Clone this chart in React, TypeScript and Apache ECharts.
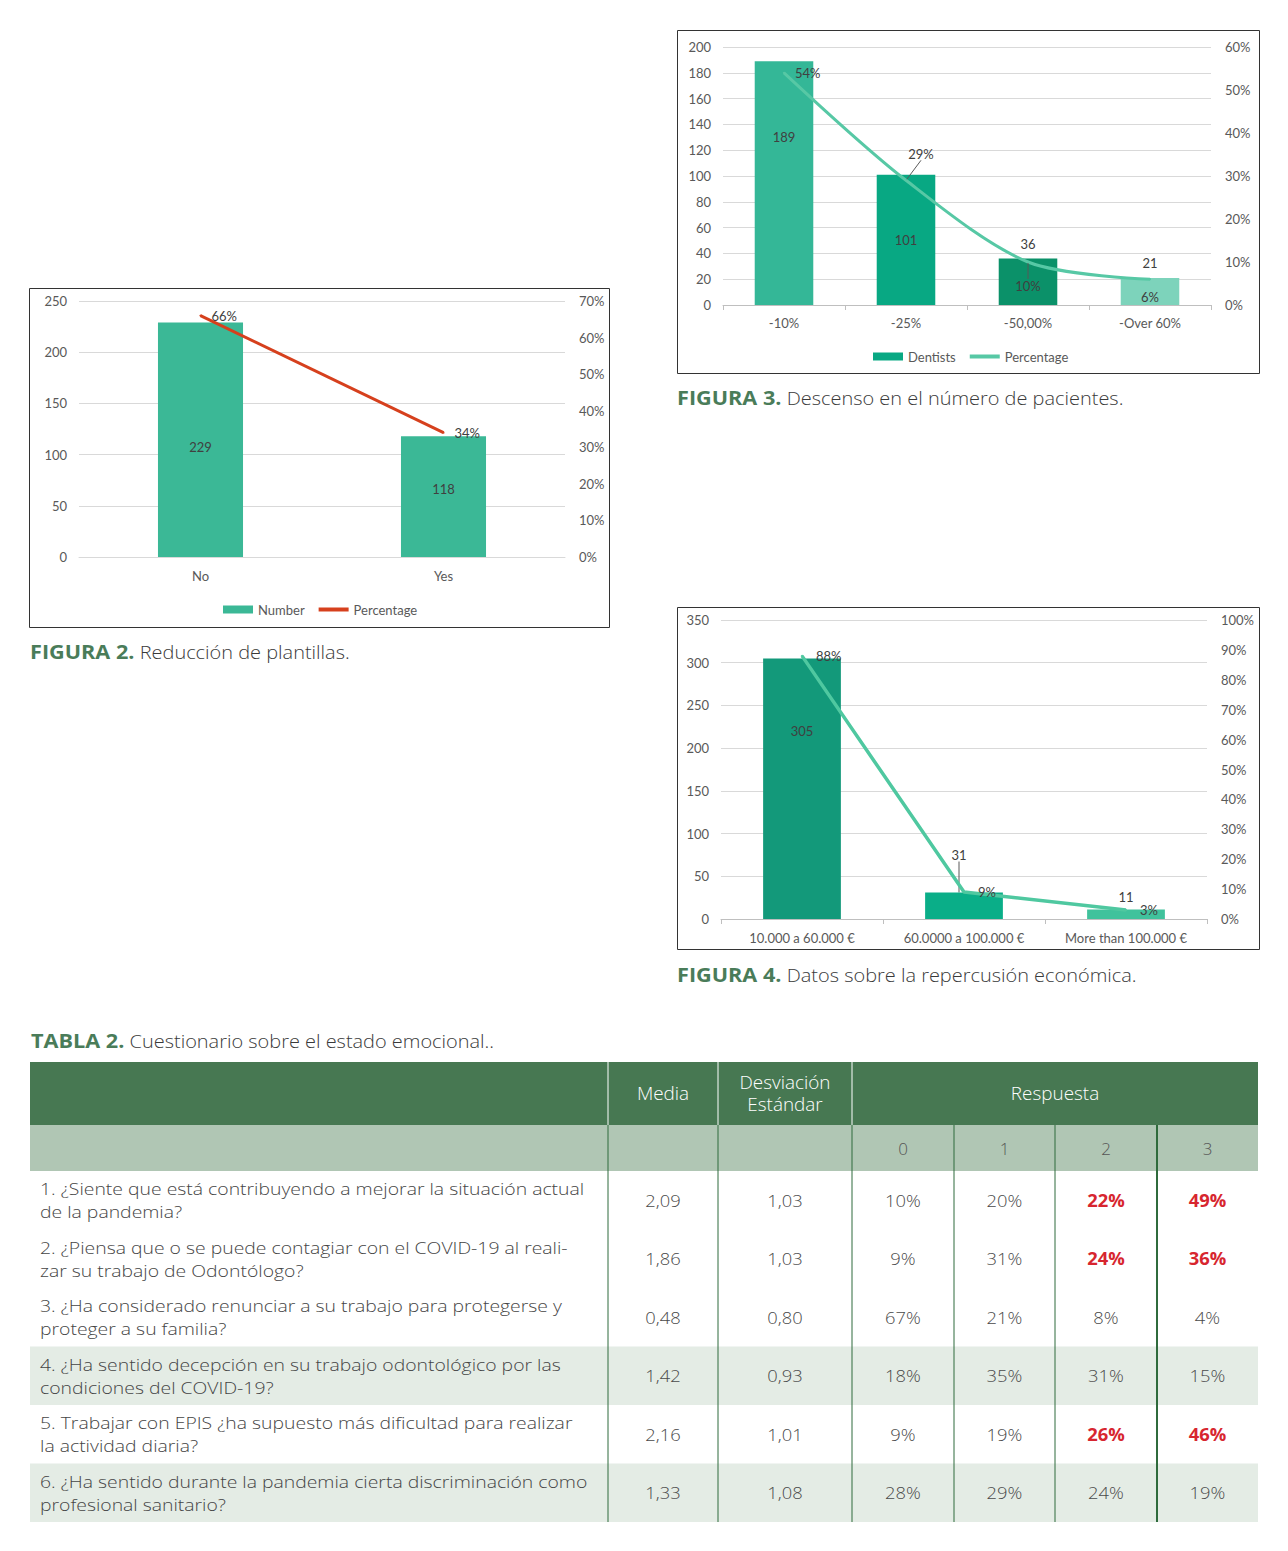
import React, { useEffect, useRef } from 'react';
import * as echarts from 'echarts';

// ---------- DATA ----------
const fig2Categories = ['No', 'Yes'];
const fig2Number = [229, 118];
const fig2Percentage = [66, 34];

const fig3Categories = ['-10%', '-25%', '-50,00%', '-Over 60%'];
const fig3Dentists = [189, 101, 36, 21];
const fig3Percentage = [54, 29, 10, 6];

const fig4Categories = ['10.000 a 60.000 €', '60.0000 a 100.000 €', 'More than 100.000 €'];
const fig4Dentists = [305, 31, 11];
const fig4Percentage = [88, 9, 3];

const captionFig2 = ['FIGURA 2.', ' Reducción de plantillas.'];
const captionFig3 = ['FIGURA 3.', ' Descenso en el número de pacientes.'];
const captionFig4 = ['FIGURA 4.', ' Datos sobre la repercusión económica.'];
const captionTable = ['TABLA 2.', ' Cuestionario sobre el estado emocional..'];

const tableHeaders = ['Media', 'Desviación\nEstándar', 'Respuesta'];
const tableAnswerLevels = ['0', '1', '2', '3'];
const tableQuestions = [
  '1. ¿Siente que está contribuyendo a mejorar la situación actual\nde la pandemia?',
  '2. ¿Piensa que o se puede contagiar con el COVID-19 al reali-\nzar su trabajo de Odontólogo?',
  '3. ¿Ha considerado renunciar a su trabajo para protegerse y\nproteger a su familia?',
  '4. ¿Ha sentido decepción en su trabajo odontológico por las\ncondiciones del COVID-19?',
  '5. Trabajar con EPIS ¿ha supuesto más dificultad para realizar\nla actividad diaria?',
  '6. ¿Ha sentido durante la pandemia cierta discriminación como\nprofesional sanitario?',
];
const tableMedia = ['2,09', '1,86', '0,48', '1,42', '2,16', '1,33'];
const tableDesv = ['1,03', '1,03', '0,80', '0,93', '1,01', '1,08'];
const tableResp0 = ['10%', '9%', '67%', '18%', '9%', '28%'];
const tableResp1 = ['20%', '31%', '21%', '35%', '19%', '29%'];
const tableResp2 = ['22%', '24%', '8%', '31%', '26%', '24%'];
const tableResp3 = ['49%', '36%', '4%', '15%', '46%', '19%'];
const tableHighlightRows = [true, true, false, false, true, false];
const tableShadedRows = [false, false, false, true, false, true];

// ---------- STYLE ----------
const FONT = 'Lato, "Liberation Sans", sans-serif';
const TFONT = '"Open Sans", "Noto Sans", sans-serif';
const WIDE = 1.14; // horizontal stretch to mimic the wider original typeface
const AXIS_TXT = '#595959';
const LBL_TXT = '#404040';
const GRID_CLR = '#D9D9D9';
const LINE_ICON = 'path://M0,0H30V4H0Z';

const fig2BarLabelPos: any[] = [['50%', '53%'], ['50%', '44%']];
const fig3BarColors = ['#34B797', '#08A883', '#0B9169', '#7DD3BB'];
const fig4BarColors = ['#13997A', '#0AAE88', '#40C29C'];
const fig3BarLabelPos: any[] = [['50%', '31%'], 'inside', 'top', 'top'];
const fig3PctLabelPos = ['right', 'top', 'bottom', 'bottom'];
const fig3PctLabelDist = [10, 5, 16, 10];
const fig4BarLabelPos: any[] = [['50%', '28%'], 'top', 'top'];

function valueAxis(gridIndex: number, max: number, interval: number, right: boolean, pct: boolean) {
  return {
    type: 'value',
    gridIndex,
    position: right ? 'right' : 'left',
    min: 0,
    max,
    interval,
    axisLine: { show: false },
    axisTick: { show: false },
    splitLine: right ? { show: false } : { show: true, lineStyle: { color: GRID_CLR, width: 1 } },
    axisLabel: {
      color: AXIS_TXT,
      fontSize: 13,
      fontFamily: FONT,
      margin: right ? 14 : 12,
      formatter: pct ? '{value}%' : '{value}',
    },
  };
}

function catAxis(gridIndex: number, data: string[], ticks: boolean, margin: number) {
  return {
    type: 'category',
    gridIndex,
    data,
    axisLine: { show: true, lineStyle: { color: ticks ? '#BFBFBF' : GRID_CLR, width: 1 } },
    axisTick: { show: ticks, length: 5, lineStyle: { color: '#BFBFBF' } },
    axisLabel: { color: AXIS_TXT, fontSize: 13, fontFamily: FONT, margin },
  };
}

const lblBase = { show: true, color: LBL_TXT, fontSize: 13, fontFamily: FONT };

function posLabel(pos: any) {
  return Array.isArray(pos) ? { position: pos, align: 'center', verticalAlign: 'middle' } : { position: pos };
}

function tText(text: string, x: number, y: number, st: any, scaleX = 1) {
  return {
    type: 'text',
    x,
    y,
    scaleX,
    silent: true,
    style: {
      text,
      fontFamily: TFONT,
      align: st.align || 'left',
      textAlign: st.align || 'left',
      verticalAlign: 'middle',
      textVerticalAlign: 'middle',
      ...st,
    },
  };
}

function caption(parts: string[], x: number, y: number) {
  return tText(
    `{b|${parts[0]}}{r|${parts[1]}}`,
    x,
    y,
    {
      fill: '#3a3a3a',
      fontSize: 18,
      rich: {
        b: { fontFamily: TFONT, fontSize: 19, fontWeight: 'bold', fill: '#4A7C59' },
        r: { fontFamily: TFONT, fontSize: 17.5, fontWeight: 300, fill: '#3a3a3a' },
      },
    },
    WIDE
  );
}

function buildTable() {
  const L = 30, R = 1258;
  const H1T = 1062, H1B = 1125, H2B = 1171, ROW_H = 58.5;
  const bounds = [608, 718, 852, 954, 1055, 1157];
  const edges = [L, ...bounds, R];
  const centers = edges.slice(1, -1).map((b, i) => (b + edges[i + 2]) / 2);
  const els: any[] = [];
  const rect = (x: number, y: number, w: number, h: number, fill: string) => ({
    type: 'rect', silent: true, shape: { x, y, width: w, height: h }, style: { fill },
  });
  const line = (x: number, y1: number, y2: number, stroke: string, w: number) => ({
    type: 'line', silent: true, shape: { x1: x, y1, x2: x, y2 }, style: { stroke, lineWidth: w },
  });
  els.push(rect(L, H1T, R - L, H1B - H1T, '#477852'));
  els.push(rect(L, H1B, R - L, H2B - H1B, '#B0C6B4'));
  tableShadedRows.forEach((s, i) => {
    if (s) els.push(rect(L, H2B + i * ROW_H, R - L, ROW_H, '#E4ECE5'));
  });
  const bodyBottom = H2B + tableQuestions.length * ROW_H;
  bounds.slice(0, 3).forEach((x) => els.push(line(x, H1T, H1B, '#FFFFFF', 1)));
  bounds.forEach((x, i) => els.push(line(x, H1B, bodyBottom, '#2F6B3C', i === bounds.length - 1 ? 2 : 1)));
  const h1y = (H1T + H1B) / 2;
  const hdr = { align: 'center', fill: '#FFFFFF', fontSize: 17.5, fontWeight: 300, lineHeight: 22 };
  els.push(tText(tableHeaders[0], centers[0], h1y, hdr, 1.08));
  els.push(tText(tableHeaders[1], centers[1], h1y, hdr, 1.08));
  els.push(tText(tableHeaders[2], (bounds[2] + R) / 2, h1y, hdr, 1.08));
  const h2y = (H1B + H2B) / 2;
  tableAnswerLevels.forEach((t, i) =>
    els.push(tText(t, centers[2 + i], h2y, { align: 'center', fill: '#555555', fontSize: 17, fontWeight: 300 }))
  );
  const cols = [tableMedia, tableDesv, tableResp0, tableResp1, tableResp2, tableResp3];
  tableQuestions.forEach((q, r) => {
    const cy = H2B + r * ROW_H + ROW_H / 2;
    els.push(tText(q, 40, cy, { fill: '#454545', fontSize: 17, fontWeight: 300, lineHeight: 23 }, WIDE));
    cols.forEach((col, c) => {
      const red = tableHighlightRows[r] && c >= 4;
      els.push(
        tText(
          col[r],
          centers[c],
          cy,
          {
            align: 'center',
            fill: red ? '#D7262F' : '#4A4A4A',
            fontSize: 17,
            fontWeight: red ? 'bold' : 300,
          },
          1.08
        )
      );
    });
  });
  return els;
}

function buildOption() {
  const graphic: any[] = [
    { type: 'rect', silent: true, z: 10, shape: { x: 29.5, y: 288.5, width: 580, height: 339 }, style: { fill: 'none', stroke: '#333', lineWidth: 1 } },
    { type: 'rect', silent: true, z: 10, shape: { x: 677.5, y: 30.5, width: 582, height: 343 }, style: { fill: 'none', stroke: '#333', lineWidth: 1 } },
    { type: 'rect', silent: true, z: 10, shape: { x: 677.5, y: 607.5, width: 582, height: 342 }, style: { fill: 'none', stroke: '#333', lineWidth: 1 } },
    caption(captionFig2, 30, 652),
    caption(captionFig3, 677, 398),
    caption(captionFig4, 677, 975),
    caption(captionTable, 31, 1041),
    ...buildTable(),
  ];

  return {
    animation: false,
    backgroundColor: '#FFFFFF',
    textStyle: { fontFamily: FONT },
    grid: [
      { left: 79, top: 301, width: 486, height: 256, containLabel: false, outerBoundsMode: 'none' },
      { left: 723, top: 47, width: 488, height: 258, containLabel: false, outerBoundsMode: 'none' },
      { left: 721, top: 620, width: 486, height: 299, containLabel: false, outerBoundsMode: 'none' },
    ],
    xAxis: [
      catAxis(0, fig2Categories, false, 12),
      catAxis(1, fig3Categories, true, 11),
      catAxis(2, fig4Categories, true, 12),
    ],
    yAxis: [
      valueAxis(0, 250, 50, false, false),
      valueAxis(0, 70, 10, true, true),
      valueAxis(1, 200, 20, false, false),
      valueAxis(1, 60, 10, true, true),
      valueAxis(2, 350, 50, false, false),
      valueAxis(2, 100, 10, true, true),
    ],
    legend: [
      {
        left: 218,
        top: 598,
        itemWidth: 30,
        itemHeight: 8,
        itemGap: 14,
        selectedMode: false,
        textStyle: { color: AXIS_TXT, fontSize: 13, fontFamily: FONT },
        data: [
          { name: 'Number', icon: 'rect', itemStyle: { color: '#3BB896', borderWidth: 0 } },
          { name: 'Percentage', icon: LINE_ICON, itemStyle: { color: '#D6401D', borderWidth: 0 } },
        ],
      },
      {
        left: 868,
        top: 345,
        itemWidth: 30,
        itemHeight: 8,
        itemGap: 14,
        selectedMode: false,
        textStyle: { color: AXIS_TXT, fontSize: 13, fontFamily: FONT },
        data: [
          { name: 'Dentists', icon: 'rect', itemStyle: { color: '#08A883', borderWidth: 0 } },
          { name: 'Percentage', icon: LINE_ICON, itemStyle: { color: '#57C8A5', borderWidth: 0 } },
        ],
      },
    ],
    series: [
      // Figure 2
      {
        name: 'Number',
        type: 'bar',
        xAxisIndex: 0,
        yAxisIndex: 0,
        barWidth: '35%',
        itemStyle: { color: '#3BB896' },
        label: { ...lblBase },
        data: fig2Number.map((v, i) => ({ value: v, label: posLabel(fig2BarLabelPos[i]) })),
      },
      {
        name: 'Percentage',
        type: 'line',
        xAxisIndex: 0,
        yAxisIndex: 1,
        color: '#D6401D',
        symbol: 'circle',
        symbolSize: 2,
        itemStyle: { color: '#D6401D' },
        lineStyle: { color: '#D6401D', width: 3 },
        label: { ...lblBase, position: 'right', distance: 10, formatter: (p: any) => p.value + '%' },
        data: fig2Percentage,
      },
      // Figure 3
      {
        name: 'Dentists',
        type: 'bar',
        xAxisIndex: 1,
        yAxisIndex: 2,
        barWidth: '48%',
        itemStyle: { color: '#08A883' },
        label: { ...lblBase, distance: 8 },
        data: fig3Dentists.map((v, i) => ({
          value: v,
          itemStyle: { color: fig3BarColors[i] },
          label: posLabel(fig3BarLabelPos[i]),
        })),
      },
      {
        name: 'Percentage',
        type: 'line',
        xAxisIndex: 1,
        yAxisIndex: 3,
        smooth: 0.3,
        color: '#57C8A5',
        symbol: 'circle',
        symbolSize: 2,
        itemStyle: { color: '#57C8A5' },
        lineStyle: { color: '#57C8A5', width: 3 },
        label: { ...lblBase, formatter: (p: any) => p.value + '%' },
        labelLine: { show: false, lineStyle: { color: '#595959', width: 1 } },
        labelLayout: (p: any) => (p.dataIndex === 1 ? { dx: 15, dy: -14 } : {}),
        data: fig3Percentage.map((v, i) => ({
          value: v,
          label: { position: fig3PctLabelPos[i], distance: fig3PctLabelDist[i] },
          labelLine: { show: i === 1 || i === 2, lineStyle: { color: '#595959', width: 1 } },
        })),
      },
      // Figure 4
      {
        name: 'Income',
        type: 'bar',
        xAxisIndex: 2,
        yAxisIndex: 4,
        barWidth: '48%',
        itemStyle: { color: '#13997A' },
        label: { ...lblBase, distance: 6 },
        labelLine: { show: false, lineStyle: { color: '#595959', width: 1 } },
        labelLayout: (p: any) => (p.dataIndex === 1 ? { dx: -5, dy: -25 } : {}),
        data: fig4Dentists.map((v, i) => ({
          value: v,
          itemStyle: { color: fig4BarColors[i] },
          label: posLabel(fig4BarLabelPos[i]),
          labelLine: { show: i === 1, lineStyle: { color: '#595959', width: 1 } },
        })),
      },
      {
        name: 'Income share',
        type: 'line',
        xAxisIndex: 2,
        yAxisIndex: 5,
        color: '#4FC8A0',
        symbol: 'circle',
        symbolSize: 2,
        itemStyle: { color: '#4FC8A0' },
        lineStyle: { color: '#4FC8A0', width: 3.5 },
        label: { ...lblBase, position: 'right', distance: 13, formatter: (p: any) => p.value + '%' },
        data: fig4Percentage,
      },
    ],
    graphic,
  };
}

export default function App() {
  const ref = useRef<HTMLDivElement>(null);
  useEffect(() => {
    if (!ref.current) return;
    const chart = echarts.init(ref.current, null, { renderer: 'svg' });
    chart.setOption(buildOption() as any);
    return () => chart.dispose();
  }, []);
  return (
    <div
      ref={ref}
      style={{ position: 'absolute', left: 0, top: 0, width: 1288, height: 1551, background: '#FFFFFF' }}
    />
  );
}
